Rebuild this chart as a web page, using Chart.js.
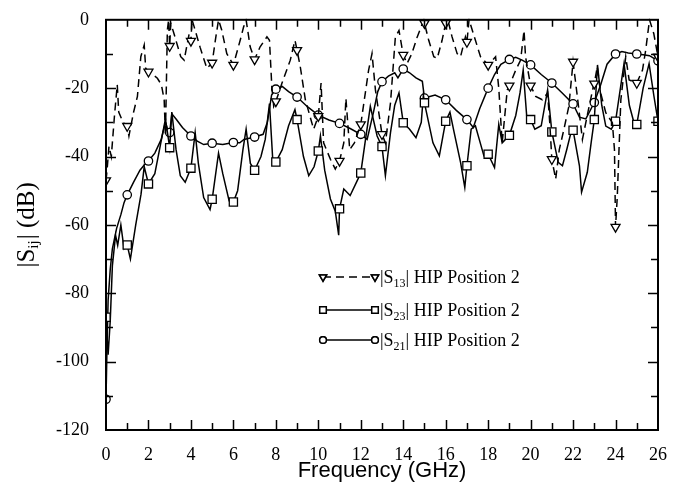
<!DOCTYPE html>
<html>
<head>
<meta charset="utf-8">
<script src="https://cdn.jsdelivr.net/npm/chart.js@4.4.1/dist/chart.umd.min.js"></script>
<style>
  html, body { margin: 0; padding: 0; background: #fff; }
  canvas { display: block; }
</style>
</head>
<body>
<canvas id="sparamChart" width="687" height="491"></canvas>
<script>
// |S13| HIP Position 2 (dashed, triangles)
var s13X = [0, 0.05, 0.14, 0.25, 0.4, 0.53, 0.6, 0.8, 1, 1.08, 1.3, 1.48, 1.64, 1.8, 1.87, 2, 2.2, 2.42, 2.61, 2.74, 2.8, 2.89, 2.95, 3, 3.05, 3.2, 3.52, 3.68, 3.92, 4, 4.05, 4.15, 4.43, 4.75, 5, 5.15, 5.3, 5.45, 5.69, 6, 6.32, 6.48, 6.6, 6.79, 7, 7.26, 7.58, 7.7, 7.81, 7.9, 8, 8.29, 8.68, 8.9, 9, 9.15, 9.39, 9.78, 10, 10.13, 10.25, 10.57, 10.8, 11, 11.2, 11.3, 11.48, 11.7, 12, 12.37, 12.53, 12.69, 13, 13.16, 13.4, 13.63, 13.8, 14, 14.18, 14.4, 14.66, 14.97, 15, 15.2, 15.44, 15.6, 15.83, 16, 16.1, 16.3, 16.54, 16.7, 16.93, 17, 17.1, 17.4, 17.64, 18, 18.35, 18.5, 18.66, 18.9, 19, 19.3, 19.53, 19.69, 19.76, 20, 20.24, 20.55, 20.8, 20.9, 21, 21.18, 21.35, 21.57, 21.8, 22, 22.2, 22.44, 22.7, 22.99, 23, 23.14, 23.3, 23.54, 23.85, 23.95, 24, 24.08, 24.25, 24.48, 24.64, 25, 25.27, 25.42, 25.6, 25.8, 26];
var s13Y = [-47, -44, -37, -40, -28, -19, -27, -30, -31.1, -34, -27, -22.4, -10.8, -7.4, -14.2, -15.2, -16, -17.1, -19, -23.4, -34, -3, 0, -7.7, -1, -4, -10.8, -11.8, -4, -6.2, 0, -2, -8, -14.2, -12.6, -6, 0, -3, -9.9, -13.2, -6, -2.1, 0, -7.9, -11.6, -7.9, -5, -6, -19.5, -25.3, -23.9, -18.5, -11.8, -6, -8.9, -13.7, -23.4, -32, -28.2, -18.5, -36, -40.8, -43.7, -41.3, -36, -23, -38, -36, -30.6, -14.7, -9.9, -20.5, -33.5, -36, -24.3, -5, -3.1, -10.3, -12.8, -10, -5, 0, -1, -6, -10.8, -11.3, -6, -1, 0, -5, -9.9, -10.8, -5, -6.5, 0, -6, -10.8, -13.2, -10.8, -20, -36, -20.5, -19.3, -14.7, -11.8, -3.1, -10.8, -19.3, -22.4, -23.4, -21.4, -30, -40.8, -46.6, -38, -32, -25.3, -12.3, -22.4, -35, -27, -18.5, -18.7, -13.7, -21.4, -27.2, -30.1, -38, -60.6, -52, -23.4, -10.8, -17.6, -18.5, -14.7, -8.9, 0, -4, -10.8];

// |S23| HIP Position 2 (solid, squares)
var s23X = [0, 0.1, 0.2, 0.3, 0.45, 0.55, 0.7, 0.85, 1, 1.15, 1.4, 1.65, 1.8, 2, 2.3, 2.55, 2.8, 3, 3.1, 3.3, 3.5, 3.73, 4, 4.2, 4.35, 4.6, 4.9, 5, 5.3, 5.5, 5.8, 6, 6.2, 6.45, 6.6, 6.8, 7, 7.3, 7.5, 7.7, 7.85, 8, 8.3, 8.6, 8.9, 9, 9.3, 9.55, 9.8, 10, 10.1, 10.3, 10.57, 10.8, 10.96, 11, 11.2, 11.5, 11.8, 12, 12.2, 12.45, 12.77, 13, 13.16, 13.4, 13.6, 13.8, 14, 14.3, 14.6, 14.85, 14.95, 15, 15.4, 15.7, 15.9, 16, 16.2, 16.4, 16.7, 16.9, 17, 17.2, 17.4, 17.8, 18, 18.3, 18.5, 18.66, 19, 19.3, 19.5, 19.65, 19.84, 20, 20.2, 20.5, 20.8, 21, 21.3, 21.5, 21.7, 21.9, 22, 22.3, 22.4, 22.67, 22.85, 23, 23.15, 23.35, 23.54, 23.8, 24, 24.4, 24.65, 24.87, 25, 25.3, 25.58, 25.8, 26];
var s23Y = [-87, -98, -88, -72, -63, -66, -60, -67, -65.9, -70, -60, -51, -43, -48, -45, -37, -29, -37.4, -27, -38, -45.6, -47.5, -43.4, -33, -42, -52, -55.5, -52.5, -39, -45, -53, -53.3, -50, -38, -32, -42, -44, -40, -35, -24.5, -40.5, -41.6, -38, -31, -26.3, -29.2, -40, -45.6, -43, -38.4, -34, -44, -52.4, -56, -63, -55.3, -49.5, -51.4, -47.5, -44.8, -36, -25.3, -34, -37.1, -45.6, -33, -25, -21.4, -30.1, -32, -34.5, -30, -22, -24.3, -36, -39.8, -33, -29.7, -27, -33, -41.7, -49, -42.7, -32, -31, -39.8, -39.3, -43.2, -30.6, -36, -33.8, -28, -21.4, -14.7, -30.1, -29.2, -32, -31, -20.5, -32.8, -41.7, -42.7, -38, -33, -32.3, -42.7, -50.4, -44.6, -36, -29.2, -13.2, -25, -31.1, -32, -29.7, -12.8, -25, -30.1, -30.6, -20, -12.8, -22, -29.7];

// |S21| HIP Position 2 (solid, circles)
var s21X = [0, 0.05, 0.1, 0.2, 0.3, 0.5, 0.7, 0.85, 1, 1.3, 1.6, 1.8, 2, 2.3, 2.6, 2.8, 2.95, 3, 3.1, 3.3, 3.6, 4, 4.3, 4.6, 5, 5.5, 6, 6.3, 6.5, 7, 7.4, 7.6, 7.8, 8, 8.3, 8.6, 9, 9.5, 10, 10.5, 11, 11.5, 12, 12.3, 12.6, 12.8, 13, 13.3, 13.6, 13.75, 14, 14.3, 14.6, 14.9, 15, 15.5, 16, 16.5, 17, 17.3, 17.6, 18, 18.3, 18.6, 19, 19.3, 19.6, 20, 20.5, 21, 21.5, 22, 22.3, 22.6, 23, 23.3, 23.6, 24, 24.3, 24.6, 25, 25.3, 25.6, 26];
var s21Y = [-111, -95, -82, -73, -67, -61, -57, -53.5, -51.2, -47.5, -44, -42.5, -41.3, -39, -35, -30, -33, -33, -27.5, -29, -31.5, -34, -35.5, -36.5, -36.1, -36.5, -35.9, -36, -35, -34.3, -33.5, -30, -22, -20.3, -19.5, -21, -22.6, -25.5, -27.9, -29.3, -30.3, -31.8, -33.5, -35, -27, -21, -18.1, -16.5, -15.5, -17, -14.4, -15.5, -17, -18, -22.9, -22, -23.4, -26.5, -29.2, -31.5, -26, -20, -16, -13, -11.6, -11, -11.8, -13.2, -16, -18.5, -21.5, -24.6, -28.5, -29, -24.2, -19, -13, -10, -9.3, -9.7, -10, -10.2, -10.5, -12];

var seriesNames = ['S13', 'S23', 'S21'];

function toPoints(xs, ys) {
  return xs.map(function (x, i) { return { x: x, y: ys[i] }; });
}

// markers only at whole GHz
function markerAt(r) {
  return function (c) {
    return (c.raw && Number.isInteger(c.raw.x)) ? r : 0;
  };
}

var pointDefs = [
  { pointStyle: 'triangle', rotation: 180, radius: 5.2 },
  { pointStyle: 'rect', rotation: 0, radius: 5.8 },
  { pointStyle: 'circle', rotation: 0, radius: 4.2 }
];

var framePlugin = {
  id: 'frame',
  afterDatasetsDraw: function (chart) {
    var ctx = chart.ctx;
    var a = chart.chartArea;
    var xs = chart.scales.x;
    var ys = chart.scales.y;
    ctx.save();
    ctx.strokeStyle = '#000';
    ctx.lineWidth = 2;
    ctx.strokeRect(a.left, a.top, a.right - a.left, a.bottom - a.top);
    ctx.lineWidth = 1.5;
    ctx.beginPath();
    for (var g = 1; g < 26; g++) {
      var px = Math.round(xs.getPixelForValue(g)) + 0.5;
      var len = g % 2 === 0 ? 10 : 7;
      ctx.moveTo(px, a.bottom);
      ctx.lineTo(px, a.bottom - len);
      ctx.moveTo(px, a.top);
      ctx.lineTo(px, a.top + len);
    }
    for (var v = -110; v < 0; v += 10) {
      var py = Math.round(ys.getPixelForValue(v)) + 0.5;
      var l2 = v % 20 === 0 ? 10 : 7;
      ctx.moveTo(a.left, py);
      ctx.lineTo(a.left + l2, py);
      ctx.moveTo(a.right, py);
      ctx.lineTo(a.right - l2, py);
    }
    ctx.stroke();
    ctx.restore();
  },
  afterDraw: function (chart) {
    var ctx = chart.ctx;
    var a = chart.chartArea;
    ctx.save();
    ctx.fillStyle = '#000';

    // x title
    ctx.font = '22px "Liberation Sans"';
    ctx.textAlign = 'center';
    ctx.textBaseline = 'middle';
    ctx.fillText('Frequency (GHz)', (a.left + a.right) / 2, 471);

    // y title with subscript
    ctx.translate(34, (a.top + a.bottom) / 2);
    ctx.rotate(-Math.PI / 2);
    ctx.textAlign = 'left';
    ctx.textBaseline = 'alphabetic';
    var big = '25px "Liberation Serif"';
    var small = '15px "Liberation Serif"';
    ctx.font = big;
    var w1 = ctx.measureText('|S').width;
    var w3 = ctx.measureText('| (dB)').width;
    ctx.font = small;
    var w2 = ctx.measureText('ij').width + 1;
    var x0 = -(w1 + w2 + w3) / 2;
    ctx.font = big;
    ctx.fillText('|S', x0, 0);
    ctx.font = small;
    ctx.fillText('ij', x0 + w1, 4);
    ctx.font = big;
    ctx.fillText('| (dB)', x0 + w1 + w2, 0);
    ctx.setTransform(1, 0, 0, 1, 0, 0);

    // legend
    var rows = [277, 310, 340];
    chart.data.datasets.forEach(function (ds, i) {
      var y = rows[i];
      ctx.save();
      ctx.strokeStyle = '#000';
      ctx.lineWidth = 1.5;
      ctx.setLineDash(ds.borderDash || []);
      ctx.beginPath();
      ctx.moveTo(323, y);
      ctx.lineTo(375, y);
      ctx.stroke();
      ctx.setLineDash([]);
      [323, 375].forEach(function (mx) {
        ctx.fillStyle = '#fff';
        Chart.helpers.drawPoint(ctx, {
          pointStyle: pointDefs[i].pointStyle,
          rotation: pointDefs[i].rotation,
          radius: pointDefs[i].radius * 0.8,
          borderWidth: 1.3
        }, mx, y);
        ctx.fill();
        ctx.stroke();
      });
      ctx.restore();

      ctx.fillStyle = '#000';
      ctx.textBaseline = 'alphabetic';
      ctx.textAlign = 'left';
      var tx = 380;
      var base = y + 6;
      ctx.font = '18px "Liberation Serif"';
      ctx.fillText('|S', tx, base);
      tx += ctx.measureText('|S').width;
      ctx.font = '12px "Liberation Serif"';
      var sub = seriesNames[i].slice(1);
      ctx.fillText(sub, tx, base + 4);
      tx += ctx.measureText(sub).width;
      ctx.font = '18px "Liberation Serif"';
      ctx.fillText('| HIP Position 2', tx, base);
    });
    ctx.restore();
  }
};

var datasets = [
  { data: toPoints(s13X, s13Y), borderDash: [8, 5] },
  { data: toPoints(s23X, s23Y) },
  { data: toPoints(s21X, s21Y) }
].map(function (ds, i) {
  ds.label = '|' + seriesNames[i] + '| HIP Position 2';
  ds.borderColor = '#000';
  ds.borderWidth = 1.5;
  ds.backgroundColor = '#fff';
  ds.fill = false;
  ds.tension = 0;
  ds.pointStyle = pointDefs[i].pointStyle;
  ds.rotation = pointDefs[i].rotation;
  ds.pointRadius = markerAt(pointDefs[i].radius);
  ds.pointBorderWidth = 1.3;
  ds.pointBorderColor = '#000';
  ds.pointBackgroundColor = '#fff';
  ds.clip = 1;
  return ds;
});

new Chart(document.getElementById('sparamChart'), {
  type: 'line',
  data: { datasets: datasets },
  plugins: [framePlugin],
  options: {
    responsive: false,
    devicePixelRatio: 1,
    animation: false,
    layout: { padding: { left: 0, right: 29, top: 16, bottom: 0 } },
    plugins: { legend: { display: false }, tooltip: { enabled: false } },
    scales: {
      x: {
        type: 'linear',
        min: 0,
        max: 26,
        grid: { display: false },
        border: { display: false },
        ticks: {
          stepSize: 2,
          padding: 6,
          color: '#000',
          font: { family: 'Liberation Serif', size: 18 },
          maxRotation: 0
        },
        afterFit: function (s) { s.height = 61; }
      },
      y: {
        type: 'linear',
        min: -120,
        max: 0,
        grid: { display: false },
        border: { display: false },
        ticks: {
          stepSize: 20,
          padding: 9,
          color: '#000',
          font: { family: 'Liberation Serif', size: 18 }
        },
        afterFit: function (s) { s.width = 106; }
      }
    }
  }
});
</script>
</body>
</html>
